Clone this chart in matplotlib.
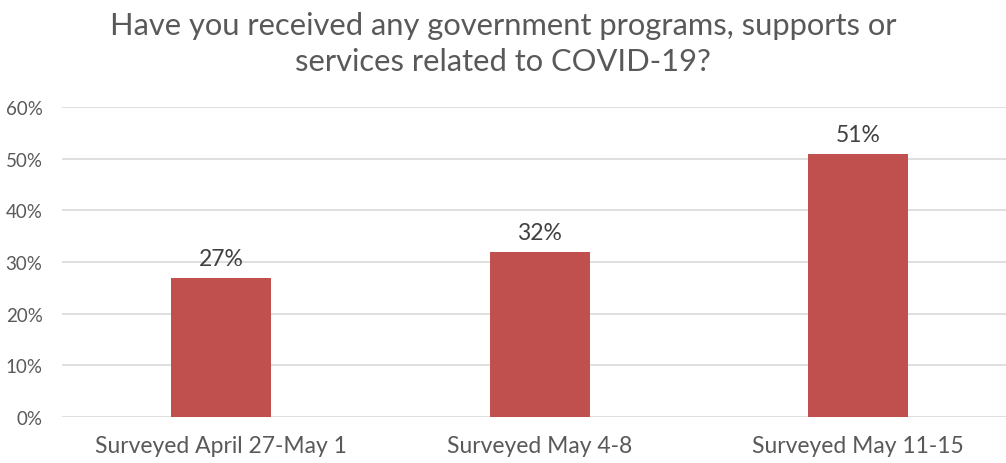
import matplotlib
matplotlib.use("Agg")
import matplotlib.pyplot as plt
from matplotlib.ticker import PercentFormatter

categories = ["Surveyed April 27-May 1", "Surveyed May 4-8", "Surveyed May 11-15"]
values = [27, 32, 51]
yticks = [0, 10, 20, 30, 40, 50, 60]
title = "Have you received any government programs, supports or\nservices related to COVID-19?"

plt.rcParams["font.family"] = ["Lato", "DejaVu Sans"]
text_color = "#595959"
bar_color = "#C0504D"
grid_color = "#D9D9D9"

fig = plt.figure(figsize=(10.06, 4.64), dpi=100)
ax = fig.add_axes([62 / 1006, 46 / 464, 944 / 1006, 310 / 464])

x = list(range(len(categories)))
bars = ax.bar(x, values, width=0.314, color=bar_color, zorder=3)

for rect, v in zip(bars, values):
    ax.annotate(f"{v}%", (rect.get_x() + rect.get_width() / 2, v),
                xytext=(0, 6), textcoords="offset points",
                ha="center", va="bottom", fontsize=16.5, color="#404040")

ax.set_ylim(0, 60)
ax.set_xlim(-0.5, 2.465)
ax.set_yticks(yticks)
ax.yaxis.set_major_formatter(PercentFormatter(decimals=0))
ax.set_xticks(x)
ax.set_xticklabels(categories)

ax.grid(axis="y", color=grid_color, linewidth=1.2, zorder=0)
for s in ax.spines.values():
    s.set_visible(False)
ax.tick_params(axis="both", length=0, colors=text_color)
ax.tick_params(axis="y", labelsize=13.5, pad=14)
ax.tick_params(axis="x", labelsize=16.5, pad=13)

fig.text(0.5, 0.975, title, ha="center", va="top", fontsize=22.2,
         color=text_color, linespacing=1.35)

fig.savefig("out.png", dpi=100)
